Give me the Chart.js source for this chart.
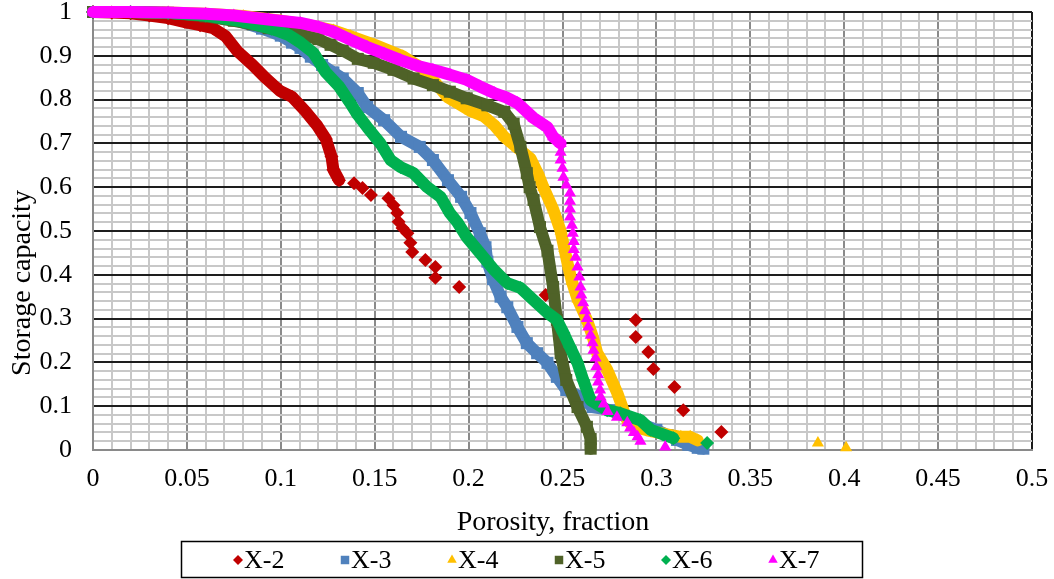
<!DOCTYPE html>
<html>
<head>
<meta charset="utf-8">
<script src="https://cdn.jsdelivr.net/npm/chart.js@4/dist/chart.umd.min.js"></script>
<style>
  html, body { margin: 0; padding: 0; background: #ffffff; }
  #wrap { width: 1054px; height: 579px; }
</style>
</head>
<body>
<div id="wrap"><canvas id="c" width="1054" height="579"></canvas></div>
<script>
// ---- data: porosity (fraction) vs storage capacity, one pair of arrays per well ----
const seriesNames = ['X-2', 'X-3', 'X-4', 'X-5', 'X-6', 'X-7'];

const porX2 = [0, 0.01, 0.02, 0.03, 0.04, 0.049, 0.057, 0.064, 0.0705, 0.077, 0.085, 0.092, 0.0995, 0.106, 0.113, 0.1195, 0.124, 0.127, 0.128, 0.131,
  0.139, 0.1435, 0.148, 0.1573, 0.160, 0.162, 0.1627, 0.1648, 0.1674, 0.169, 0.170, 0.177, 0.1823, 0.1823, 0.195, 0.241, 0.289, 0.289, 0.2957, 0.2984, 0.3096, 0.3143, 0.3346];
const capX2 = [1, 0.999, 0.997, 0.992, 0.986, 0.977, 0.97, 0.963, 0.945, 0.91, 0.879, 0.849, 0.82, 0.806, 0.774, 0.74, 0.71, 0.67, 0.64, 0.616,
  0.609, 0.598, 0.582, 0.575, 0.559, 0.541, 0.521, 0.507, 0.495, 0.473, 0.452, 0.434, 0.418, 0.393, 0.372, 0.354, 0.297, 0.258, 0.224, 0.185, 0.144, 0.091, 0.041];

const porX3 = [0, 0.02, 0.04, 0.06, 0.075, 0.09, 0.1, 0.106, 0.1105, 0.116, 0.122, 0.128, 0.133, 0.141, 0.146, 0.155, 0.164, 0.174, 0.181, 0.189,
  0.196, 0.201, 0.206, 0.209, 0.210, 0.213, 0.217, 0.2206, 0.226, 0.231, 0.2365, 0.242, 0.247, 0.252, 0.2596, 0.266, 0.2756, 0.288, 0.2915, 0.3,
  0.306, 0.311, 0.317, 0.322, 0.325];
const capX3 = [1, 1, 0.998, 0.992, 0.982, 0.962, 0.946, 0.93, 0.918, 0.898, 0.879, 0.862, 0.848, 0.815, 0.783, 0.753, 0.715, 0.692, 0.662, 0.616,
  0.578, 0.541, 0.495, 0.463, 0.43, 0.39, 0.35, 0.326, 0.281, 0.244, 0.221, 0.199, 0.167, 0.137, 0.121, 0.098, 0.091, 0.068, 0.06, 0.046,
  0.034, 0.023, 0.012, 0.005, 0.003];

const porX4 = [0, 0.02, 0.04, 0.06, 0.08, 0.1, 0.115, 0.128, 0.137, 0.15, 0.165, 0.175, 0.182, 0.1887, 0.195, 0.201, 0.208, 0.2136, 0.219, 0.226,
  0.233, 0.237, 0.2398, 0.245, 0.249, 0.251, 0.253, 0.255, 0.258, 0.263, 0.266, 0.2685, 0.2738, 0.2792, 0.2825, 0.2845, 0.288, 0.295, 0.305, 0.313,
  0.318, 0.322, 0.386, 0.401];
const capX4 = [1, 1, 0.999, 0.996, 0.991, 0.98, 0.97, 0.958, 0.945, 0.925, 0.899, 0.872, 0.84, 0.806, 0.79, 0.774, 0.762, 0.742, 0.715, 0.69,
  0.665, 0.63, 0.60, 0.55, 0.50, 0.46, 0.42, 0.385, 0.345, 0.297, 0.26, 0.221, 0.183, 0.13, 0.09, 0.068, 0.053, 0.045, 0.036, 0.03,
  0.03, 0.022, 0.016, 0.005];

const porX5 = [0, 0.02, 0.04, 0.06, 0.075, 0.085, 0.0935, 0.1025, 0.1105, 0.12, 0.1265, 0.133, 0.141, 0.1495, 0.160, 0.1707, 0.181, 0.190, 0.199, 0.210,
  0.219, 0.224, 0.2276, 0.231, 0.2325, 0.2346, 0.238, 0.242, 0.245, 0.247, 0.249, 0.252, 0.258, 0.263, 0.265, 0.265];
const capX5 = [1, 1, 0.998, 0.99, 0.98, 0.972, 0.963, 0.955, 0.948, 0.938, 0.925, 0.912, 0.893, 0.884, 0.868, 0.848, 0.833, 0.818, 0.803, 0.787,
  0.772, 0.745, 0.692, 0.632, 0.60, 0.571, 0.509, 0.455, 0.372, 0.297, 0.221, 0.160, 0.098, 0.053, 0.025, 0.003];

const porX6 = [0, 0.02, 0.04, 0.06, 0.08, 0.095, 0.104, 0.1105, 0.1175, 0.124, 0.131, 0.137, 0.141, 0.146, 0.153, 0.1585, 0.1638, 0.1707, 0.178, 0.185,
  0.190, 0.194, 0.199, 0.206, 0.2136, 0.2206, 0.2276, 0.2346, 0.242, 0.247, 0.2505, 0.254, 0.258, 0.261, 0.2649, 0.2738, 0.2807, 0.2915, 0.297, 0.309,
  0.327];
const capX6 = [1, 1, 0.998, 0.992, 0.978, 0.962, 0.948, 0.93, 0.906, 0.862, 0.83, 0.792, 0.765, 0.737, 0.70, 0.662, 0.646, 0.632, 0.60, 0.578,
  0.541, 0.52, 0.486, 0.45, 0.411, 0.381, 0.370, 0.342, 0.313, 0.297, 0.267, 0.235, 0.199, 0.160, 0.114, 0.091, 0.084, 0.068, 0.046, 0.027,
  0.016];

const porX7 = [0, 0.02, 0.04, 0.06, 0.075, 0.0934, 0.1105, 0.12, 0.128, 0.137, 0.146, 0.155, 0.1638, 0.172, 0.181, 0.19, 0.199, 0.206, 0.2136, 0.22,
  0.226, 0.2346, 0.242, 0.245, 0.249,
  0.249, 0.249, 0.250, 0.2505, 0.252, 0.254, 0.254, 0.254, 0.254, 0.255, 0.2555, 0.256, 0.256, 0.257, 0.258, 0.259, 0.2596, 0.260, 0.261, 0.262,
  0.263, 0.2637, 0.265, 0.266, 0.2665, 0.2676, 0.268, 0.269, 0.269, 0.270, 0.2703, 0.272, 0.274, 0.279, 0.2845, 0.286, 0.288, 0.29, 0.2915, 0.3047];
const capX7 = [1, 1, 0.999, 0.996, 0.992, 0.983, 0.975, 0.966, 0.955, 0.937, 0.92, 0.905, 0.89, 0.878, 0.868, 0.857, 0.845, 0.83, 0.815, 0.805,
  0.792, 0.758, 0.737, 0.715, 0.70,
  0.68, 0.662, 0.643, 0.623, 0.605, 0.587, 0.568, 0.55, 0.532, 0.513, 0.495, 0.476, 0.458, 0.44, 0.418, 0.395, 0.372, 0.354, 0.336, 0.318,
  0.30, 0.281, 0.262, 0.245, 0.228, 0.21, 0.19, 0.172, 0.155, 0.137, 0.121, 0.105, 0.088, 0.075, 0.062, 0.05, 0.04, 0.03, 0.02, 0.007];

const xTickLabels = ['0', '0.05', '0.1', '0.15', '0.2', '0.25', '0.3', '0.35', '0.4', '0.45', '0.5'];
const yTickLabels = ['0', '0.1', '0.2', '0.3', '0.4', '0.5', '0.6', '0.7', '0.8', '0.9', '1'];
const xTitle = 'Porosity, fraction';
const yTitle = 'Storage capacity';

// ---- styles ----
// band: last point index joined by the thick trace (dense part of each cloud)
const looks = [
  { color: '#C00000', pointStyle: 'rectRot',  radius: 7,   legendRadius: 5,   band: 19 },
  { color: '#4F81BD', pointStyle: 'rect',     radius: 8.5, legendRadius: 6,   band: 44 },
  { color: '#FFC000', pointStyle: 'triangle', radius: 7,   legendRadius: 5.5, band: 41 },
  { color: '#4F6228', pointStyle: 'rect',     radius: 8.5, legendRadius: 6,   band: 35 },
  { color: '#00B050', pointStyle: 'rectRot',  radius: 7,   legendRadius: 5,   band: 39 },
  { color: '#FF00FF', pointStyle: 'triangle', radius: 7,   legendRadius: 5.5, band: 24 }
];
const porosity = [porX2, porX3, porX4, porX5, porX6, porX7];
const capacity = [capX2, capX3, capX4, capX5, capX6, capX7];

const FONT = '"Liberation Serif", "Times New Roman", serif';
Chart.defaults.font.family = FONT;
Chart.defaults.color = '#000';

// grid positions: minor every 0.01 (x) and 0.02 (y)
const xGrid = [];
for (let k = 0; k <= 50; k++) xGrid.push(k / 100);
const yGrid = [];
for (let k = 0; k <= 50; k++) yGrid.push(k / 50);
const isMajorX = v => Math.abs(v * 20 - Math.round(v * 20)) < 1e-6;
const isMajorY = v => Math.abs(v * 10 - Math.round(v * 10)) < 1e-6;

const datasets = seriesNames.map((name, i) => {
  const s = looks[i];
  return {
    label: name,
    data: porosity[i].map((x, k) => ({ x: x, y: capacity[i][k] })),
    order: seriesNames.length - i,
    showLine: true,
    borderWidth: 12,
    borderColor: s.color,
    backgroundColor: s.color,
    borderJoinStyle: 'round',
    borderCapStyle: 'round',
    tension: 0,
    pointStyle: s.pointStyle,
    pointRadius: s.radius,
    pointHoverRadius: s.radius,
    pointBorderWidth: 0,
    pointBackgroundColor: s.color,
    clip: false,
    segment: {
      borderColor: ctx => (ctx.p1DataIndex <= s.band ? s.color : 'rgba(0,0,0,0)')
    }
  };
});

// axis titles and boxed legend
const decorations = {
  id: 'decorations',
  afterDraw(chart) {
    const ctx = chart.ctx;
    ctx.save();
    ctx.fillStyle = '#000';
    ctx.font = '28px ' + FONT;
    ctx.textAlign = 'center';
    ctx.textBaseline = 'middle';
    ctx.fillText(xTitle, 553, 523);
    ctx.save();
    ctx.translate(23, 283);
    ctx.rotate(-Math.PI / 2);
    ctx.fillText(yTitle, 0, 0);
    ctx.restore();

    ctx.strokeStyle = '#000';
    ctx.lineWidth = 1.5;
    ctx.strokeRect(181.5, 541.5, 681, 36);

    ctx.font = '26px ' + FONT;
    ctx.textAlign = 'left';
    chart.data.datasets.forEach((ds, i) => {
      const s = looks[i];
      const cx = 238 + i * 107, cy = 560;
      ctx.fillStyle = s.color;
      Chart.helpers.drawPoint(ctx, { pointStyle: s.pointStyle, radius: s.legendRadius, rotation: 0, borderWidth: 0 }, cx, cy);
      ctx.fillStyle = '#000';
      ctx.fillText(ds.label, cx + 6, cy + 1);
    });
    ctx.restore();
  }
};

new Chart(document.getElementById('c'), {
  type: 'scatter',
  data: { datasets: datasets },
  options: {
    responsive: false,
    animation: false,
    devicePixelRatio: 1,
    layout: { padding: { top: 12, right: 22, bottom: 0, left: 0 } },
    plugins: { legend: { display: false }, tooltip: { enabled: false } },
    scales: {
      x: {
        type: 'linear', min: 0, max: 0.5,
        afterBuildTicks: sc => { sc.ticks = xGrid.map(v => ({ value: v })); },
        afterFit: sc => { sc.height = 129; sc.paddingLeft = 0; sc.paddingRight = 0; },
        ticks: {
          autoSkip: false, maxRotation: 0, minRotation: 0, padding: 14,
          color: '#000', font: { size: 26 },
          callback: v => (isMajorX(v) ? xTickLabels[Math.round(v * 20)] : '')
        },
        grid: {
          drawTicks: false,
          color: c => (Math.abs(c.tick.value - 0.5) < 1e-6 ? '#1a1a1a' : (isMajorX(c.tick.value) ? '#8a8a8a' : '#c8c8c8')),
          lineWidth: 2
        },
        border: { color: '#8a8a8a', width: 2 }
      },
      y: {
        type: 'linear', min: 0, max: 1,
        afterBuildTicks: sc => { sc.ticks = yGrid.map(v => ({ value: v })); },
        afterFit: sc => { sc.width = 93; sc.paddingTop = 0; sc.paddingBottom = 0; },
        ticks: {
          autoSkip: false, padding: 21,
          color: '#000', font: { size: 26 },
          callback: v => (isMajorY(v) ? yTickLabels[Math.round(v * 10)] : '')
        },
        grid: {
          drawTicks: false,
          color: c => (isMajorY(c.tick.value) ? '#1e1e1e' : '#c8c8c8'),
          lineWidth: 2
        },
        border: { color: '#8a8a8a', width: 2 }
      }
    }
  },
  plugins: [decorations]
});
</script>
</body>
</html>
